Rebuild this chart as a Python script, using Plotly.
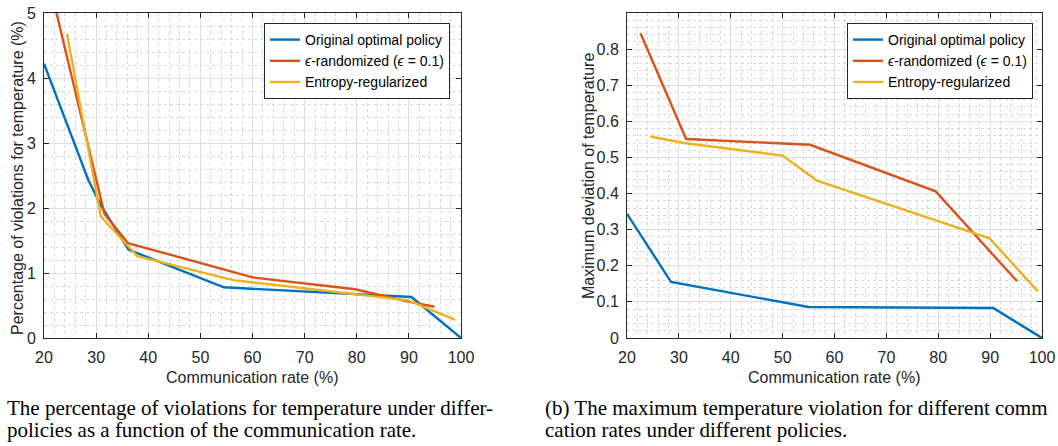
import plotly.graph_objects as go

# ---------------- data ----------------
series_names = ["Original optimal policy",
                "<i>ϵ</i>-randomized (<i>ϵ</i> = 0.1)",
                "Entropy-regularized"]
colors = ["#0072BD", "#D95319", "#EDB120"]

# (a) percentage of violations
a_blue_x = [20, 28.5, 31.0, 36.2, 54.5, 90.5, 100]
a_blue_y = [4.22, 2.43, 2.03, 1.36, 0.78, 0.63, 0.0]
a_red_x = [22.4, 31.6, 36.1, 60.2, 79.7, 89.9, 94.9]
a_red_y = [5.0, 1.91, 1.46, 0.93, 0.75, 0.56, 0.48]
a_yel_x = [24.4, 30.9, 37.9, 56.3, 89.9, 98.9]
a_yel_y = [4.68, 1.87, 1.26, 0.89, 0.58, 0.28]

# (b) maximum deviation
b_blue_x = [20, 28.5, 55.0, 90.6, 100]
b_blue_y = [0.344, 0.155, 0.086, 0.083, 0.0]
b_red_x = [22.6, 31.4, 55.3, 79.5, 95.2]
b_red_y = [0.844, 0.551, 0.535, 0.406, 0.157]
b_yel_x = [24.5, 31.0, 50.0, 56.6, 89.9, 99.2]
b_yel_y = [0.558, 0.540, 0.505, 0.436, 0.276, 0.129]

x_ticks = [20, 30, 40, 50, 60, 70, 80, 90, 100]
a_y_ticks = [0, 1, 2, 3, 4, 5]
b_y_ticks = [0, 0.1, 0.2, 0.3, 0.4, 0.5, 0.6, 0.7, 0.8]
b_y_labels = ["0", "0.1", "0.2", "0.3", "0.4", "0.5", "0.6", "0.7", "0.8"]

x_title = "Communication rate (%)"
a_y_title = "Percentage of violations for temperature (%)"
b_y_title = "Maximum deviation of temperature"
cap_a = ["The percentage of violations for temperature under differ-",
         "policies as a function of the communication rate."]
cap_b = ["(b) The maximum temperature violation for different comm",
         "cation rates under different policies."]

# ---------------- figure ----------------
W, H = 1058, 446
fig = go.Figure()

for xs, ys, nm, c in zip([a_blue_x, a_red_x, a_yel_x], [a_blue_y, a_red_y, a_yel_y], series_names, colors):
    fig.add_trace(go.Scatter(x=xs, y=ys, name=nm, mode="lines",
                             line=dict(color=c, width=2.4), xaxis="x", yaxis="y",
                             legend="legend"))
for xs, ys, nm, c in zip([b_blue_x, b_red_x, b_yel_x], [b_blue_y, b_red_y, b_yel_y], series_names, colors):
    fig.add_trace(go.Scatter(x=xs, y=ys, name=nm, mode="lines",
                             line=dict(color=c, width=2.4), xaxis="x2", yaxis="y2",
                             legend="legend2"))

axcol = "#262626"
font_main = "Liberation Sans, Arial, sans-serif"
common = dict(showline=True, linecolor=axcol, linewidth=1, mirror="ticks",
              ticks="inside", ticklen=5, tickcolor=axcol, showgrid=True,
              gridcolor="#dedede", gridwidth=1, zeroline=False, automargin=False,
              tickfont=dict(family=font_main, size=16, color=axcol))
minor = dict(showgrid=True, gridcolor="#d8d8d8", griddash="dot", gridwidth=1)

yb, yt = 1 - 338 / H, 1 - 13 / H
fig.update_layout(
    width=W, height=H, margin=dict(l=0, r=0, t=0, b=0, autoexpand=False),
    paper_bgcolor="white", plot_bgcolor="white",
    xaxis=dict(domain=[44 / W, 461 / W], range=[20, 100], tickvals=x_ticks,
               ticklabelstandoff=5,
               minor=dict(dtick=2, tick0=20, **minor), anchor="y", **common),
    yaxis=dict(domain=[yb, yt], range=[0, 5], tickvals=a_y_ticks,
               ticklabelstandoff=4,
               minor=dict(dtick=0.2, tick0=0, **minor), anchor="x", **common),
    xaxis2=dict(domain=[627 / W, 1042 / W], range=[20, 100], tickvals=x_ticks,
                ticklabelstandoff=5,
                minor=dict(dtick=2, tick0=20, **minor), anchor="y2", **common),
    yaxis2=dict(domain=[yb, yt], range=[0, 0.9], tickvals=b_y_ticks, ticktext=b_y_labels,
                ticklabelstandoff=4,
                minor=dict(dtick=0.02, tick0=0, **minor), anchor="x2", **common),
    legend=dict(x=264 / W, y=1 - 23 / H, xanchor="left", yanchor="top",
                bgcolor="white", bordercolor=axcol, borderwidth=1,
                font=dict(family=font_main, size=14, color="black"),
                tracegroupgap=0, itemwidth=30),
    legend2=dict(x=847 / W, y=1 - 23 / H, xanchor="left", yanchor="top",
                 bgcolor="white", bordercolor=axcol, borderwidth=1,
                 font=dict(family=font_main, size=14, color="black"),
                 tracegroupgap=0, itemwidth=30),
    showlegend=True,
)

ann = []
lab_font = dict(family=font_main, size=16, color=axcol)
ann.append(dict(text=x_title, x=252.5 / W, y=1 - 377 / H, xref="paper", yref="paper",
                xanchor="center", yanchor="middle", showarrow=False, font=lab_font))
ann.append(dict(text=x_title, x=834.5 / W, y=1 - 377 / H, xref="paper", yref="paper",
                xanchor="center", yanchor="middle", showarrow=False, font=lab_font))
ann.append(dict(text=a_y_title, x=17 / W, y=1 - 178 / H, xref="paper", yref="paper",
                xanchor="center", yanchor="middle", textangle=-90, showarrow=False, font=lab_font))
ann.append(dict(text=b_y_title, x=588 / W, y=1 - 176 / H, xref="paper", yref="paper",
                xanchor="center", yanchor="middle", textangle=-90, showarrow=False, font=lab_font))

cap_font = dict(family="Liberation Serif, Times New Roman, serif", size=21, color="black")
for i, line in enumerate(cap_a):
    ann.append(dict(text=line, x=5 / W, y=1 - (408 + 22 * i) / H, xref="paper", yref="paper",
                    xanchor="left", yanchor="middle", showarrow=False, font=cap_font))
for i, line in enumerate(cap_b):
    ann.append(dict(text=line, x=543 / W, y=1 - (408 + 22 * i) / H, xref="paper", yref="paper",
                    xanchor="left", yanchor="middle", showarrow=False, font=cap_font))
fig.update_layout(annotations=ann)

fig.write_html("out.html")
